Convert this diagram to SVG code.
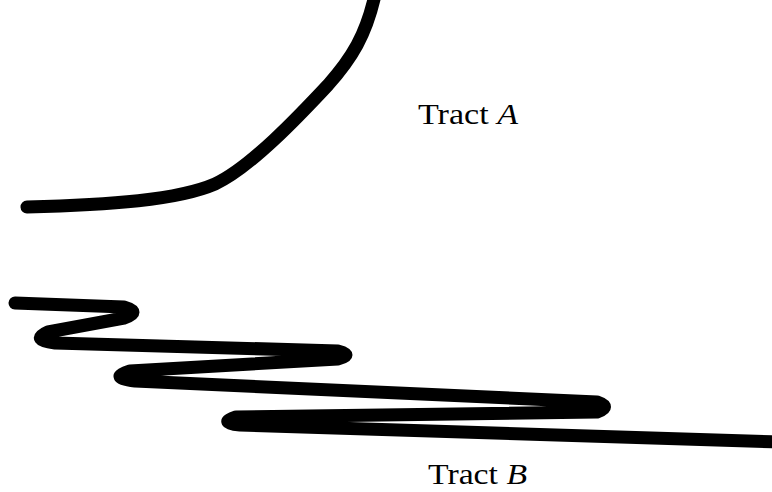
<svg xmlns="http://www.w3.org/2000/svg" width="772" height="492" viewBox="0 0 772 492">
<style>
.tract{fill:none;stroke:#000;stroke-width:13;stroke-linecap:round;stroke-linejoin:round}
.lbl{font-family:"Liberation Serif","DejaVu Serif",serif;font-size:30px;fill:#000}
</style>
<rect width="772" height="492" fill="#fff"/>
<g id="connectors">
<path id="tractA" class="tract" d="M27,207 C110,205 178,200 215,184 C250,168 300,115 328,85 C352,58 366,35 375,-5"/>
<path id="tractB" class="tract" d="M15,303 L124,307 Q142,312 124,318 L48,332 Q30,340 55,343 L338,351 Q354,355 338,359 L130,371 Q108,378 135,381 L597,402 Q612,407 597,412 L236,417 Q218,423 240,425 L780,442"/>
</g>
<g id="labelA"><text class="lbl" x="418" y="124" textLength="100" lengthAdjust="spacingAndGlyphs">Tract <tspan font-style="italic">A</tspan></text></g>
<g id="labelB"><text class="lbl" x="428" y="484" textLength="99" lengthAdjust="spacingAndGlyphs">Tract <tspan font-style="italic">B</tspan></text></g>
</svg>
